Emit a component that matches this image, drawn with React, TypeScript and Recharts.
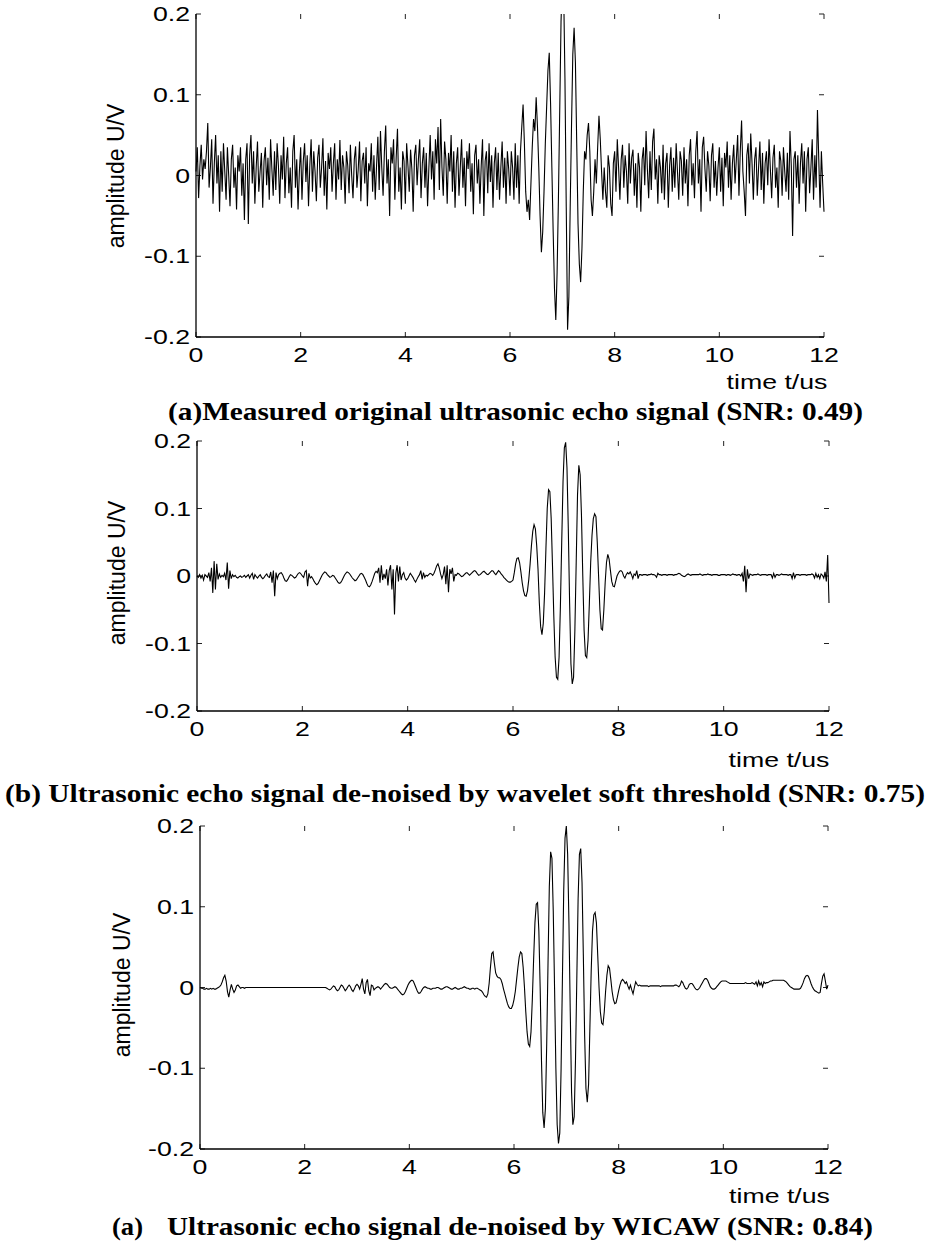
import { LineChart, Line, XAxis, YAxis, ReferenceLine } from "recharts";

const PAGE_W = 931;
const PAGE_H = 1245;

// sampling interval of the echo records, in microseconds
const SAMPLE_STEP_US = 0.025;
const TIME_TICKS = [0, 2, 4, 6, 8, 10, 12];
const AMP_TICKS = [-0.2, -0.1, 0, 0.1, 0.2];
const TIME_DOMAIN = [0, 12];
const AMP_DOMAIN = [-0.2, 0.2];

// (a) measured original echo, mV, one row = 0.5 us
const ORIGINAL_MV = [
  5, 35, -28, 12, 38, -5, 20, 8, 30, 65, -15, 10, 45, -35, 15, 50, -10, 25, -45, 30,
  -20, 40, 5, -30, 35, 0, -38, 20, 38, -15, 10, -42, 25, 5, 35, -25, 15, -55, 20, 40,
  -60, 25, 50, -10, 30, -35, 10, 42, -20, 5, 28, -40, 18, 35, -12, 22, -30, 45, 8, -25,
  30, -18, 40, 12, -35, 25, -5, 48, -28, 15, 35, -22, 10, -40, 30, 50, -15, 20, -42, 5,
  35, -30, 18, 40, -8, 25, -38, 12, 45, -20, 30, 5, -32, 22, 38, -15, 10, 46, -25, 18,
  -42, 28, 8, 35, -20, 15, 40, -30, 20, -5, 44, -18, 25, 10, -35, 30, 12, -22, 38, 0,
  -28, 20, 36, -15, 8, 42, -32, 18, 28, -10, 35, -38, 15, 5, 40, -20, 25, -30, 12, 48,
  -18, 55, 10, -25, 30, 62, -10, 20, -50, 35, 15, 45, -30, 22, 58, -20, 10, -42, 30, 18,
  -35, 40, 12, -20, 32, 8, -45, 25, 38, -12, 20, 45, -28, 15, 35, -15, 28, -38, 10, 50,
  -5, 30, -30, 45, 15, 60, -18, 70, 10, -25, 42, 20, -35, 28, 5, 50, -20, 30, -40, 15,
  35, -25, 10, 45, -15, 22, -38, 30, 8, 40, -20, 15, -48, 25, 38, -10, 20, -35, 12, 45,
  -50, 18, 30, -22, 40, -8, 25, -40, 15, 35, -18, 28, -30, 10, 42, -15, 22, -35, 30, 8,
  -25, 30, 10, -30, 40, -15, 25, -35, 30, 60, 88, 40, -20, -45, -30, -55, -10, 35, 70, 55,
  97, 60, 10, -50, -95, -70, -20, 40, 85, 130, 152, 90, 10, -70, -140, -179, -120, -30, 80, 190,
  245, 230, 120, -40, -191, -150, -40, 60, 150, 183, 140, 40, -60, -110, -132, -90, -20, 30, 20, 50,
  65, 30, -30, -50, -20, 20, -10, 35, 74, 45, 5, -30, 10, -20, -40, 25, 10, -35, -50, 15,
  30, -20, 45, 10, -30, 20, 38, -15, 25, 5, -35, 40, -10, 22, 32, -25, 15, -40, 28, 10,
  -45, 20, 35, -12, 55, 8, -28, 30, -18, 42, 58, -5, 20, -35, 25, 10, -22, 38, -30, 15,
  28, -40, 12, 35, -20, 22, -15, 40, 5, -30, 30, 18, -25, 35, -10, 20, -38, 25, 45, -12,
  15, -28, 30, 55, -10, 20, -45, 35, 48, 8, -20, 30, 12, -32, 25, 40, -15, 18, -25, 10,
  35, -20, 22, -38, 28, 10, 42, -15, 25, -30, 15, 38, -10, 20, 50, -25, 30, 68, 5, -20,
  -50, 25, 40, -10, 52, 15, -30, 20, 35, -25, 10, 42, -18, 28, -35, 15, 30, -12, 45, 8,
  -28, 22, 38, -15, 10, -40, 30, 18, -25, 35, 5, -20, 28, -30, 55, 12, -75, 20, 30, -15,
  25, -35, 15, 40, -10, 30, -45, 20, 35, -22, 10, 45, -30, 25, -15, 81, 20, -40, 30, -10,
  -45,
];

// (b) wavelet soft threshold result, mV
const SOFT_THRESHOLD_MV = [
  0, -2, 2, -3, 1, -6, 2, 0, -2, 5, -8, 12, -25, 22, -20, 18, -5, 3, -2, 1,
  -1, 4, -6, 20, -19, 8, -4, 2, -1, 1, -2, -3, -1, 0, -2, -1, 1, -2, 0, 2,
  -3, 1, 4, -5, 2, -1, -3, 0, 2, -2, -4, -2, 1, 3, -1, -2, 6, -10, 8, -30,
  5, -4, 2, 4, 5, 2, -3, -7, -8, -5, -1, 2, 1, -1, -3, -2, 1, 4, 5, 3,
  0, -2, 6, 8, -15, 4, -3, -1, -4, -8, -11, -13, -11, -7, -3, 1, 4, 6, 5, 2,
  0, -2, -1, 1, 0, -3, -6, -9, -11, -10, -7, -3, 1, 4, 6, 5, 3, 0, -3, -5,
  -7, -6, -3, 0, 3, 4, 2, -2, -6, -11, -15, -16, -13, -8, -2, 4, 7, 5, 12, -10,
  16, -6, 3, -4, 10, -14, 8, 16, -20, 10, -57, 4, 16, -8, 14, -6, 2, 5, -3, -6,
  -4, 0, 4, 1, -2, -6, -9, -5, -1, 2, 8, -5, 5, -2, 1, 0, 2, 4, 3, 1,
  4, 9, 15, 18, 12, 3, -4, 2, 14, -12, 16, -24, 10, 3, 12, -8, 2, 1, 4, 3,
  1, -1, 0, 2, 4, 5, 3, 1, 3, 5, 7, 8, 6, 3, 1, 2, 4, 6, 7, 5,
  3, 2, 4, 6, 8, 7, 4, 2, 5, 8, 6, 3, 1, -2, -4, -6, -8, -9, -9, -8,
  -6, 5, 18, 26, 27, 20, 6, -10, -22, -29, -30, -22, -5, 18, 45, 66, 76, 70, 45, 10,
  -40, -75, -87, -70, -25, 40, 100, 128, 125, 85, 15, -60, -120, -150, -153, -120, -45, 50, 140, 190,
  198, 160, 70, -40, -130, -160, -150, -80, 20, 120, 164, 150, 90, 0, -80, -118, -121, -95, -40, 20,
  60, 85, 92, 88, 50, 0, -50, -78, -80, -50, -10, 20, 32, 25, 8, -8, -15, -16, -8, 0,
  4, 7, 8, 6, 0, -3, 2, 5, 3, 6, 2, -4, 3, 1, 8, -4, 2, 2, 1, 2,
  2, 2, 1, 2, 2, 3, 2, 2, 1, -2, 4, 2, 2, 1, 2, 2, 2, 1, 2, 2,
  2, 2, 1, 2, 2, 3, 4, 3, 1, 0, -1, 0, 2, 3, 2, 1, 2, 2, 2, 2,
  2, 2, 3, 2, 1, 2, 2, 2, 3, 2, 2, 1, 2, 2, 2, 2, 1, 1, 2, 2,
  2, 2, 1, 2, 2, 1, 2, 3, 2, 2, 1, 2, 2, 0, 4, -8, 15, -24, 10, -4,
  3, 2, 1, 2, 2, 2, 3, 2, 1, 2, 2, 2, 2, 1, 2, 2, 2, -3, 4, -2,
  2, 2, 1, 2, 3, 2, 2, 2, 2, 1, 2, 2, -4, 5, -3, 2, 2, 2, 1, 2,
  2, 2, 2, 1, 2, 2, 2, 3, 2, -3, 4, -2, 2, -4, 3, 1, -3, 6, -8, 31,
  -40,
];

// (c) WICAW result, mV
const WICAW_MV = [
  0, -1, -1, -2, -2, -1, -2, -2, -1, -2, -1, -2, -2, -1, 0, 1, 3, 7, 12, 15,
  8, -5, -12, -3, 4, -2, -6, -3, 2, 3, 1, -1, 0, 0, -1, 0, 0, 0, 0, 0,
  0, 0, 0, 0, 0, 0, 0, 0, 0, 0, 0, 0, 0, 0, 0, 0, 0, 0, 0, 0,
  0, 0, 0, 0, 0, 0, 0, 0, 0, 0, 0, 0, 0, 0, 0, 0, 0, 0, 0, 0,
  0, 0, 0, 0, 0, 0, 0, 0, 0, 0, 0, 0, 0, 0, 0, 0, 0, -1, -2, -3,
  -2, 0, 2, 1, -2, -4, -3, 0, 3, 2, -1, -4, -2, 1, 3, 1, -3, -5, -2, 2,
  4, 2, -2, 4, 11, -2, -8, 6, 10, -4, -10, 3, 2, -3, -1, 0, 1, 0, -2, 0,
  2, 4, 5, 4, 2, 0, -1, -1, 0, 1, 0, -2, -4, -6, -8, -9, -8, -5, -1, 3,
  6, 8, 9, 8, 4, 0, -4, -7, -7, -5, -2, 0, 1, 0, -1, -1, -2, -2, -1, -1,
  -1, 0, 0, -1, -2, -2, -1, 0, 1, 1, 0, -1, -2, -2, -1, 0, -1, -2, -2, -1,
  -1, 0, 1, 0, -1, -1, -2, -2, -1, -1, -2, -1, -1, -2, -3, -4, -6, -9, -11, -12,
  -8, 5, 25, 42, 44, 30, 18, 14, 12, 12, 10, 5, -2, -8, -14, -20, -24, -26, -26, -22,
  -15, -5, 10, 25, 38, 44, 42, 25, 0, -30, -55, -70, -73, -55, -15, 35, 80, 103, 105, 70,
  0, -90, -155, -174, -150, -70, 30, 125, 168, 160, 95, 0, -100, -170, -193, -180, -100, 10, 120, 185,
  200, 165, 80, -30, -130, -170, -160, -90, 10, 110, 165, 172, 130, 40, -60, -125, -142, -120, -50, 20,
  70, 90, 93, 80, 40, 0, -30, -44, -46, -30, -5, 15, 27, 24, 10, -5, -15, -20, -19, -12,
  -4, 3, 8, 10, 8, 5, 7, 2, -2, 3, -3, -8, 0, 7, 4, 2, 3, 2, 2, 2,
  2, 2, 2, 1, 2, 2, 2, 2, 2, 2, 2, 2, 1, 2, 2, 2, 2, 2, 2, 2,
  2, 2, 2, 3, 3, 2, 1, 3, 8, 6, 2, -1, -2, 0, 4, 5, 5, 3, 0, -2,
  -3, -2, 0, 3, 6, 9, 11, 11, 9, 5, 1, -1, -2, -2, -1, 1, 3, 5, 7, 8,
  8, 8, 8, 7, 6, 5, 5, 5, 5, 5, 5, 5, 5, 5, 5, 5, 5, 6, 5, 5,
  5, 5, 6, 5, 4, 7, 2, 8, 3, 6, 1, 7, 5, 6, 6, 7, 8, 8, 9, 9,
  9, 9, 9, 9, 9, 9, 9, 8, 7, 5, 3, 1, 0, -1, -2, -2, -2, -2, -2, -1,
  2, 6, 11, 14, 15, 14, 10, 5, 1, -2, -4, -5, -6, -7, -6, 5, 14, 17, 8, -2,
  3,
];

const SANS = "'Liberation Sans', Arial, sans-serif";
const SERIF = "'Liberation Serif', 'Times New Roman', serif";
// the figure text is stretched sideways in the original
const STRETCH = 1.37;
const TICK_PX = 5;

const AXIS = { stroke: "#000", strokeWidth: 1.3 };

function toSeries(mv: number[]) {
  return mv.map((v, i) => ({ t: Math.round(i * SAMPLE_STEP_US * 1000) / 1000, amp: v / 1000 }));
}

function TimeTick({ x, y, payload }: any) {
  return (
    <text
      transform={`translate(${x},${y + 25}) scale(${STRETCH},1)`}
      textAnchor="middle"
      fontFamily={SANS}
      fontSize={19.5}
      fill="#000"
    >
      {payload.value}
    </text>
  );
}

function AmpTick({ x, y, payload }: any) {
  return (
    <text
      transform={`translate(${x - 6},${y + 7}) scale(${STRETCH},1)`}
      textAnchor="end"
      fontFamily={SANS}
      fontSize={19.5}
      fill="#000"
    >
      {payload.value}
    </text>
  );
}

type PanelProps = {
  mv: number[];
  left: number;
  right: number;
  top: number;
  bottom: number;
};

function EchoPanel({ mv, left, right, top, bottom }: PanelProps) {
  const data = toSeries(mv);
  // inward tick marks, drawn as short segments on the frame
  const dx = (TICK_PX * (TIME_DOMAIN[1] - TIME_DOMAIN[0])) / (right - left);
  const dy = (TICK_PX * (AMP_DOMAIN[1] - AMP_DOMAIN[0])) / (bottom - top);
  const tickStyle = { stroke: "#222", strokeWidth: 1 };
  return (
    <div style={{ position: "absolute", left: 0, top: top - 10 }}>
      <LineChart
        width={PAGE_W}
        height={bottom - top + 55}
        data={data}
        margin={{ top: 10, right: PAGE_W - right, bottom: 0, left: left - 60 }}
      >
        <XAxis
          dataKey="t"
          type="number"
          domain={TIME_DOMAIN}
          ticks={TIME_TICKS}
          interval={0}
          height={45}
          tickSize={0}
          tickMargin={0}
          tick={TimeTick}
          axisLine={AXIS}
          tickLine={false}
        />
        <XAxis
          xAxisId="top"
          orientation="top"
          dataKey="t"
          type="number"
          domain={TIME_DOMAIN}
          height={0}
          tick={false}
          axisLine={AXIS}
          tickLine={false}
        />
        <YAxis
          type="number"
          domain={AMP_DOMAIN}
          ticks={AMP_TICKS}
          interval={0}
          width={60}
          allowDataOverflow
          tickSize={0}
          tickMargin={0}
          tick={AmpTick}
          axisLine={AXIS}
          tickLine={false}
        />
        <YAxis
          yAxisId="right"
          orientation="right"
          type="number"
          domain={AMP_DOMAIN}
          width={0}
          tick={false}
          axisLine={AXIS}
          tickLine={false}
        />
        {TIME_TICKS.map((t) => (
          <ReferenceLine
            key={`b${t}`}
            segment={[{ x: t, y: AMP_DOMAIN[0] }, { x: t, y: AMP_DOMAIN[0] + dy }]}
            ifOverflow="visible"
            {...tickStyle}
          />
        ))}
        {TIME_TICKS.map((t) => (
          <ReferenceLine
            key={`t${t}`}
            segment={[{ x: t, y: AMP_DOMAIN[1] }, { x: t, y: AMP_DOMAIN[1] - dy }]}
            ifOverflow="visible"
            {...tickStyle}
          />
        ))}
        {AMP_TICKS.map((a) => (
          <ReferenceLine
            key={`l${a}`}
            segment={[{ x: TIME_DOMAIN[0], y: a }, { x: TIME_DOMAIN[0] + dx, y: a }]}
            ifOverflow="visible"
            {...tickStyle}
          />
        ))}
        {AMP_TICKS.map((a) => (
          <ReferenceLine
            key={`r${a}`}
            segment={[{ x: TIME_DOMAIN[1], y: a }, { x: TIME_DOMAIN[1] - dx, y: a }]}
            ifOverflow="visible"
            {...tickStyle}
          />
        ))}
        <Line
          dataKey="amp"
          type="linear"
          stroke="#000"
          strokeWidth={1.1}
          dot={false}
          isAnimationActive={false}
        />
      </LineChart>
    </div>
  );
}

function AmpLabel({ x, y }: { x: number; y: number }) {
  return (
    <text
      transform={`translate(${x},${y}) rotate(-90)`}
      textAnchor="middle"
      fontFamily={SANS}
      fontSize={23}
      fill="#000"
    >
      amplitude U/V
    </text>
  );
}

function TimeLabel({ x, y }: { x: number; y: number }) {
  return (
    <text
      transform={`translate(${x},${y}) scale(${STRETCH},1)`}
      textAnchor="middle"
      fontFamily={SANS}
      fontSize={19.5}
      fill="#000"
    >
      time t/us
    </text>
  );
}

function Caption({ x, y, width, children }: { x: number; y: number; width: number; children: string }) {
  return (
    <text
      x={x}
      y={y}
      textLength={width}
      lengthAdjust="spacingAndGlyphs"
      fontFamily={SERIF}
      fontWeight="bold"
      fontSize={25}
      fill="#000"
    >
      {children}
    </text>
  );
}

export default function App() {
  return (
    <div style={{ position: "absolute", left: 0, top: 0, width: PAGE_W, height: PAGE_H, background: "#fff" }}>
      <EchoPanel mv={ORIGINAL_MV} left={196} right={824} top={14} bottom={337} />
      <EchoPanel mv={SOFT_THRESHOLD_MV} left={197} right={829} top={441} bottom={711} />
      <EchoPanel mv={WICAW_MV} left={200} right={828} top={826} bottom={1149} />
      <svg
        width={PAGE_W}
        height={PAGE_H}
        style={{ position: "absolute", left: 0, top: 0, pointerEvents: "none" }}
      >
        <AmpLabel x={123.5} y={176} />
        <AmpLabel x={124.5} y={573} />
        <AmpLabel x={129.5} y={985} />
        <TimeLabel x={777} y={389} />
        <TimeLabel x={779} y={767} />
        <TimeLabel x={779.5} y={1203} />
        <Caption x={168} y={420} width={695}>
          (a)Measured original ultrasonic echo signal (SNR: 0.49)
        </Caption>
        <Caption x={5} y={802} width={920}>
          (b) Ultrasonic echo signal de-noised by wavelet soft threshold (SNR: 0.75)
        </Caption>
        <Caption x={112} y={1235} width={31}>
          (a)
        </Caption>
        <Caption x={167} y={1235} width={706}>
          Ultrasonic echo signal de-noised by WICAW (SNR: 0.84)
        </Caption>
      </svg>
    </div>
  );
}
